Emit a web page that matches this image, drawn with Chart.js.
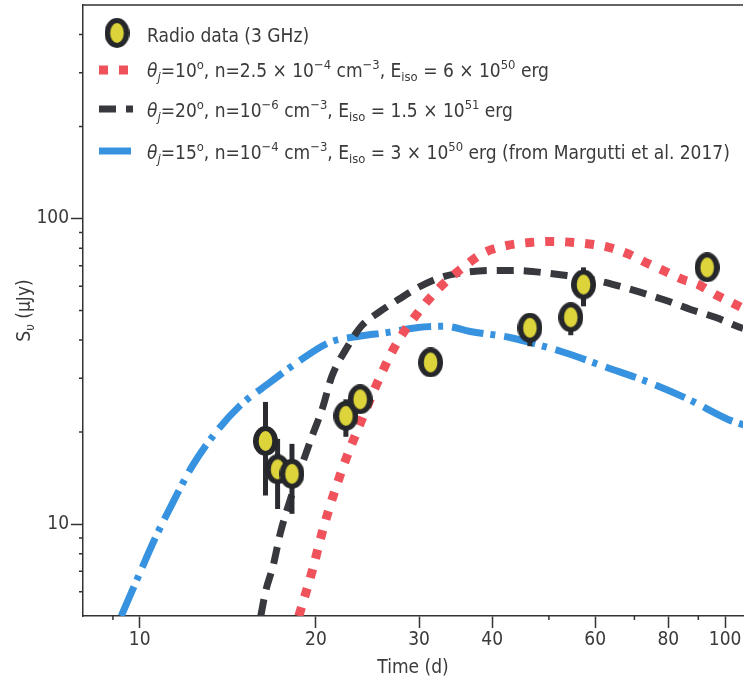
<!DOCTYPE html>
<html>
<head>
<meta charset="utf-8">
<script src="https://cdn.jsdelivr.net/npm/chart.js@4"></script>
<style>
html, body { margin: 0; padding: 0; background: #fff; }
#wrap { width: 748px; height: 683px; position: relative; }
</style>
</head>
<body>
<div id="wrap"><canvas id="myChart"></canvas></div>
<script>
// radio data, 3 GHz (time in days, flux in uJy, error bar ends)
let radioT    = [16.4, 17.2, 18.2, 22.5, 23.8, 31.4, 46.4, 54.5, 57.3, 93.2];
let radioFlux = [18.7, 15.1, 14.6, 22.6, 25.6, 33.8, 43.9, 47.5, 60.8, 69.2];
let radioLo   = [12.4, 11.2, 10.8, 19.3, 23.8, 31.6, 38.2, 41.5, 51.6, 65.0];
let radioHi   = [25.1, 19.0, 18.3, 25.6, 27.4, 36.0, 47.0, 52.0, 69.2, 73.4];

// theta_j = 10 model (red dotted)
let redT    = [18.7, 19.7, 20.5, 21.5, 22.5, 23.7, 25.3, 27.3, 29.9, 32.3, 35.3, 38.8, 42.4, 46.4, 51.0, 55.1, 59.6, 63.4, 68.6, 73.2, 79.1, 84.6, 90.0, 96.2, 104.0, 110];
let redFlux = [5.0, 7.0, 9.4, 12.7, 16.3, 20.9, 28.2, 38.2, 49.3, 58.6, 68.1, 77.4, 81.6, 83.5, 84.1, 83.5, 82.2, 80.4, 76.3, 71.8, 67.1, 63.2, 60.8, 56.4, 52.4, 49.6];

// theta_j = 20 model (black dashed)
let blackT    = [16.1, 16.4, 16.9, 17.4, 18.1, 18.9, 19.7, 20.5, 21.3, 22.5, 23.9, 25.6, 27.7, 29.9, 32.7, 35.9, 39.7, 44.1, 48.6, 53.6, 59.1, 65.2, 71.8, 79.1, 87.3, 96.2, 107.3, 110];
let blackFlux = [5.0, 6.0, 7.3, 9.4, 12.1, 15.5, 19.4, 23.8, 30.5, 37.3, 44.4, 49.3, 54.4, 59.5, 64.2, 66.6, 67.6, 67.6, 66.6, 65.1, 63.2, 60.4, 57.3, 54.0, 50.4, 47.5, 43.7, 43.2];

// theta_j = 15 model, Margutti et al. 2017 (blue dash-dot)
let blueT    = [9.3, 9.9, 10.6, 11.4, 12.3, 13.5, 14.8, 16.7, 18.7, 21.1, 23.7, 26.6, 29.9, 33.2, 36.7, 42.9, 46.4, 53.0, 62.7, 74.1, 86.6, 101.2, 110];
let blueFlux = [5.0, 6.6, 8.9, 11.8, 15.5, 20.0, 24.3, 29.1, 34.1, 39.3, 41.2, 42.4, 44.0, 44.4, 42.7, 40.8, 39.3, 36.5, 32.6, 29.1, 25.6, 22.0, 20.8];

let xTicks = [10, 20, 30, 40, 60, 80, 100];
let xMinor = [9, 50, 70, 90];
let yTicks = [10, 100];
let yMinor = [6, 7, 8, 9, 20, 30, 40, 50, 60, 70, 80, 90, 200, 300, 400];

let yTitle = [{t: 'S'}, {t: '\u03C5', sub: 1}, {t: ' (\u03BCJy)'}];
let legendText = [
    [{t: 'Radio data (3 GHz)'}],
    [{t: 'θ', it: 1}, {t: 'j', sub: 1, it: 1}, {t: '=10'}, {t: 'o', sup: 1}, {t: ', n=2.5 × 10'}, {t: '−4', sup: 1}, {t: ' cm'}, {t: '−3', sup: 1}, {t: ', E'}, {t: 'iso', sub: 1}, {t: ' = 6 × 10'}, {t: '50', sup: 1}, {t: ' erg'}],
    [{t: 'θ', it: 1}, {t: 'j', sub: 1, it: 1}, {t: '=20'}, {t: 'o', sup: 1}, {t: ', n=10'}, {t: '−6', sup: 1}, {t: ' cm'}, {t: '−3', sup: 1}, {t: ', E'}, {t: 'iso', sub: 1}, {t: ' = 1.5 × 10'}, {t: '51', sup: 1}, {t: ' erg'}],
    [{t: 'θ', it: 1}, {t: 'j', sub: 1, it: 1}, {t: '=15'}, {t: 'o', sup: 1}, {t: ', n=10'}, {t: '−4', sup: 1}, {t: ' cm'}, {t: '−3', sup: 1}, {t: ', E'}, {t: 'iso', sub: 1}, {t: ' = 3 × 10'}, {t: '50', sup: 1}, {t: ' erg (from Margutti et al. 2017)'}]
];

const fam = '"DejaVu Sans Condensed", "DejaVu Sans", sans-serif';
const txtColor = '#3a3a3a';
const axisColor = '#333333';
const redCol = '#f0525c';
const blackCol = '#38393e';
const blueCol = '#3793e0';
const redDash = [9, 11];
const blackDash = [17, 10];
const blueDash = [32, 7, 5, 9];

Chart.defaults.font.family = fam;
Chart.defaults.font.size = 19;
Chart.defaults.color = txtColor;

function makeMarker() {
    let c = document.createElement('canvas');
    c.width = 25;
    c.height = 30;
    let g = c.getContext('2d');
    g.fillStyle = '#26272b';
    g.beginPath();
    g.ellipse(12.5, 15, 12.5, 15, 0, 0, Math.PI * 2);
    g.fill();
    g.fillStyle = '#dcd43a';
    g.beginPath();
    g.ellipse(12.5, 15, 6.8, 10, 0, 0, Math.PI * 2);
    g.fill();
    return c;
}
const marker = makeMarker();

function pts(xs, ys) {
    return xs.map((v, i) => ({x: v, y: ys[i]}));
}

// vertical error bars, drawn just before the radio points
const errorBars = {
    id: 'errorBars',
    beforeDatasetDraw(chart, args) {
        if (args.index !== 0) return;
        const {ctx, scales: {x, y}} = chart;
        ctx.save();
        ctx.strokeStyle = '#2b2c31';
        ctx.lineWidth = 5;
        for (let i = 0; i < radioT.length; i++) {
            const px = x.getPixelForValue(radioT[i]);
            ctx.beginPath();
            ctx.moveTo(px, y.getPixelForValue(radioLo[i]));
            ctx.lineTo(px, y.getPixelForValue(radioHi[i]));
            ctx.stroke();
        }
        ctx.restore();
    }
};

// small ticks, top frame line
const frame = {
    id: 'frame',
    afterDraw(chart) {
        const {ctx, chartArea: a, scales: {x, y}} = chart;
        ctx.save();
        ctx.strokeStyle = axisColor;
        ctx.lineWidth = 1.5;
        ctx.beginPath();
        ctx.moveTo(a.left, a.top);
        ctx.lineTo(a.right, a.top);
        for (const v of xMinor) {
            const px = x.getPixelForValue(v);
            ctx.moveTo(px, a.bottom);
            ctx.lineTo(px, a.bottom + 4);
        }
        for (const v of yMinor) {
            const py = y.getPixelForValue(v);
            ctx.moveTo(a.left, py);
            ctx.lineTo(a.left - 4, py);
        }
        ctx.stroke();
        ctx.restore();
    }
};

function drawRich(ctx, parts, x, yMid, size, measureOnly) {
    const base = yMid + size * 0.36;
    const x0 = x;
    ctx.textBaseline = 'alphabetic';
    ctx.textAlign = 'left';
    for (const p of parts) {
        const small = p.sup || p.sub;
        const fs = small ? size * 0.68 : size;
        let yy = base;
        if (p.sup) yy = base - size * 0.42;
        if (p.sub) yy = base + size * 0.2;
        ctx.font = (p.it ? 'italic ' : '') + fs + 'px ' + fam;
        if (!measureOnly) ctx.fillText(p.t, x, yy);
        x += ctx.measureText(p.t).width;
    }
    return x - x0;
}

const legendBox = {
    id: 'legendBox',
    afterDraw(chart) {
        const {ctx, chartArea: a} = chart;
        const rows = [35, 70, 110, 152];
        ctx.save();
        ctx.drawImage(marker, 117 - marker.width / 2, 33 - marker.height / 2);
        const handles = [[redCol, 9, redDash, 70], [blackCol, 7, blackDash, 109], [blueCol, 7, blueDash, 151]];
        for (const h of handles) {
            ctx.strokeStyle = h[0];
            ctx.lineWidth = h[1];
            ctx.setLineDash(h[2]);
            ctx.lineCap = 'butt';
            ctx.beginPath();
            ctx.moveTo(99, h[3]);
            ctx.lineTo(133, h[3]);
            ctx.stroke();
        }
        ctx.setLineDash([]);
        ctx.fillStyle = txtColor;
        for (let i = 0; i < legendText.length; i++) {
            drawRich(ctx, legendText[i], 147, rows[i], 19);
        }
        // y axis title with subscript
        const w = drawRich(ctx, yTitle, 0, 0, 19, true);
        ctx.translate(23, (a.top + a.bottom) / 2);
        ctx.rotate(-Math.PI / 2);
        drawRich(ctx, yTitle, -w / 2, 0, 19);
        ctx.restore();
    }
};

const data = {
    datasets: [
        {
            type: 'scatter',
            label: 'Radio data (3 GHz)',
            data: pts(radioT, radioFlux),
            pointStyle: marker,
            order: 0,
            clip: false
        },
        {
            type: 'line',
            label: 'theta 10',
            data: pts(redT, redFlux),
            borderColor: redCol,
            borderWidth: 9,
            borderDash: redDash,
            borderCapStyle: 'butt',
            pointRadius: 0,
            cubicInterpolationMode: 'monotone',
            order: 1,
            clip: 0
        },
        {
            type: 'line',
            label: 'theta 20',
            data: pts(blackT, blackFlux),
            borderColor: blackCol,
            borderWidth: 7,
            borderDash: blackDash,
            borderCapStyle: 'butt',
            pointRadius: 0,
            cubicInterpolationMode: 'monotone',
            order: 2,
            clip: 0
        },
        {
            type: 'line',
            label: 'theta 15',
            data: pts(blueT, blueFlux),
            borderColor: blueCol,
            borderWidth: 7,
            borderDash: blueDash,
            borderCapStyle: 'butt',
            pointRadius: 0,
            cubicInterpolationMode: 'monotone',
            order: 3,
            clip: 0
        }
    ]
};

const config = {
    data: data,
    plugins: [errorBars, frame, legendBox],
    options: {
        responsive: true,
        maintainAspectRatio: false,
        animation: false,
        layout: {padding: {top: 5, right: 0, left: 0, bottom: 0}},
        plugins: {
            legend: {display: false},
            tooltip: {enabled: false}
        },
        scales: {
            x: {
                type: 'logarithmic',
                min: 8,
                max: 107.3,
                afterBuildTicks: (s) => { s.ticks = xTicks.map(v => ({value: v})); },
                afterFit: (s) => { s.height = 67; s.paddingLeft = 0; s.paddingRight = 0; },
                ticks: {
                    callback: (v) => String(v),
                    maxRotation: 0,
                    autoSkip: false,
                    padding: 1
                },
                grid: {drawOnChartArea: false, drawTicks: true, tickLength: 12, tickColor: axisColor, tickWidth: 1.5},
                border: {display: true, color: axisColor, width: 1.5},
                title: {display: true, text: 'Time (d)', padding: {top: 0, bottom: 4}}
            },
            y: {
                type: 'logarithmic',
                min: 5,
                max: 500,
                afterBuildTicks: (s) => { s.ticks = yTicks.map(v => ({value: v})); },
                afterFit: (s) => { s.width = 83; s.paddingTop = 0; s.paddingBottom = 0; },
                ticks: {
                    callback: (v) => String(v),
                    autoSkip: false,
                    padding: 2
                },
                grid: {drawOnChartArea: false, drawTicks: true, tickLength: 12, tickColor: axisColor, tickWidth: 1.5},
                border: {display: true, color: axisColor, width: 1.5},
                title: {display: false}
            }
        }
    }
};

myChart = new Chart(document.getElementById('myChart'), config);
</script>
</body>
</html>
